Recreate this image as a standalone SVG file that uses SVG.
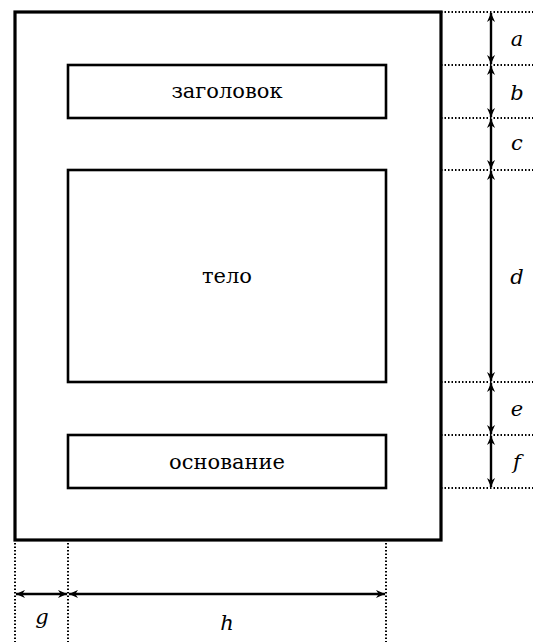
<svg xmlns="http://www.w3.org/2000/svg" width="533" height="642" viewBox="0 0 533 642">
<style>
.box{fill:#fff;stroke:#000;stroke-width:3.2}
.inner{fill:none;stroke:#000;stroke-width:2.6}
.dot{stroke:#000;stroke-width:2;stroke-dasharray:1.5 2;fill:none}
.dim{stroke:#000;stroke-width:2.4;fill:none;marker-start:url(#ah);marker-end:url(#ah)}
.lbl{font-family:'DejaVu Serif','Liberation Serif',serif;font-size:21px;text-anchor:middle}
.var{font-family:'DejaVu Serif','Liberation Serif',serif;font-style:italic;font-size:21px;text-anchor:middle}
</style>
<defs>
<marker id="ah" viewBox="0 0 10 10" refX="10" refY="5" markerWidth="9" markerHeight="9" orient="auto-start-reverse" markerUnits="userSpaceOnUse">
<path d="M0,0.5 L10,5 L0,9.5 L3,5 Z" fill="#000"/>
</marker>
</defs>
<rect id="page" class="box" x="15" y="12" width="426" height="528"/>
<g id="header"><rect class="inner" x="68" y="65" width="318" height="53"/><text class="lbl" x="227" y="98">заголовок</text></g>
<g id="body"><rect class="inner" x="68" y="170" width="318" height="212"/><text class="lbl" x="227" y="283">тело</text></g>
<g id="footer"><rect class="inner" x="68" y="435" width="318" height="53"/><text class="lbl" x="227" y="469">основание</text></g>
<g id="connectors">
<path class="dot" d="M441,12H533M441,65H533M441,118H533M441,170H533M441,382H533M441,435H533M441,488H533"/>
<path class="dot" d="M15,543V642M68,543V642M386,543V642"/>
<line class="dim" x1="491" y1="13" x2="491" y2="64"/>
<line class="dim" x1="491" y1="66" x2="491" y2="117"/>
<line class="dim" x1="491" y1="119" x2="491" y2="169"/>
<line class="dim" x1="491" y1="171" x2="491" y2="381"/>
<line class="dim" x1="491" y1="383" x2="491" y2="434"/>
<line class="dim" x1="491" y1="436" x2="491" y2="487"/>
<line class="dim" x1="16" y1="594" x2="67" y2="594"/>
<line class="dim" x1="69" y1="594" x2="385" y2="594"/>
</g>
<g id="labels">
<text class="var" x="517" y="46">a</text>
<text class="var" x="517" y="100">b</text>
<text class="var" x="517" y="150">c</text>
<text class="var" x="517" y="284">d</text>
<text class="var" x="517" y="416">e</text>
<text class="var" x="517" y="469">f</text>
<text class="var" x="42" y="624">g</text>
<text class="var" x="227" y="630">h</text>
</g>
</svg>
